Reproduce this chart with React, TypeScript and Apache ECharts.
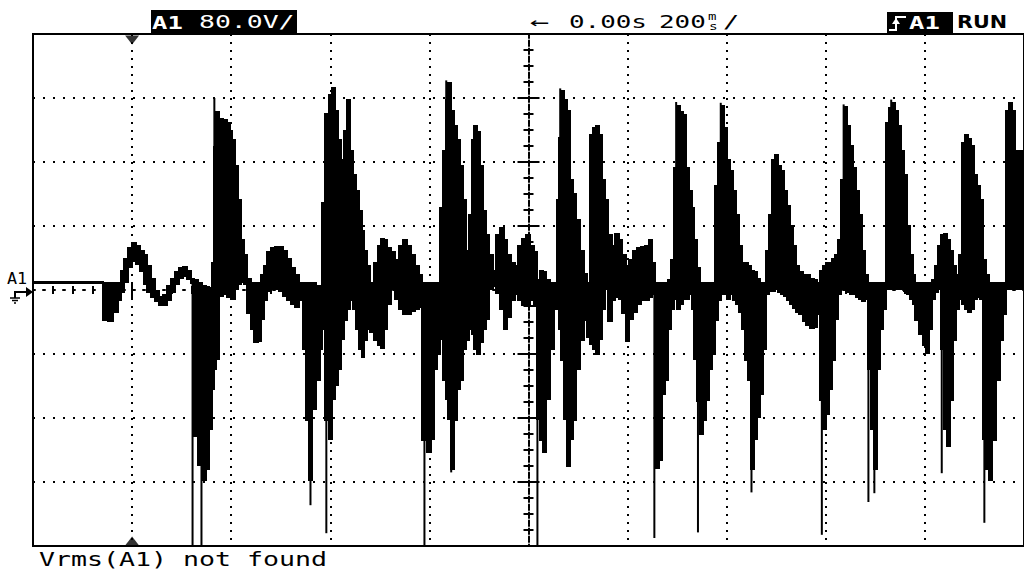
import React, { useEffect, useRef } from "react";
import * as echarts from "echarts";

// time axis (ms) : 200 ms/div, 10 divisions, centred on 0.00 s
const T_MIN = -1000;
const T_MAX = 1000;
const T_DIV = 200;
// voltage axis (V) : 80.0 V/div, 8 divisions
const V_MIN = -320;
const V_MAX = 320;
const V_DIV = 80;
const TRIGGER_T = -800;
const BASE_V = 10;

// envelope of the trace: sample start time, upper value, lower value
const T = [
  -1000, -860, -850, -840, -830, -824, -818, -810, -802, -794,
  -786, -778, -770, -762, -754, -746, -738, -730, -722, -714,
  -706, -698, -690, -682, -676, -668, -660, -652, -646, -640,
  -636, -632, -626, -618, -610, -604, -600, -594, -588, -582,
  -576, -570, -562, -554, -546, -540, -534, -528, -520, -512,
  -504, -496, -488, -480, -472, -464, -456, -450, -444, -438,
  -430, -422, -418, -412, -404, -398, -392, -386, -380, -374,
  -368, -362, -356, -350, -344, -338, -332, -326, -320, -312,
  -304, -298, -292, -286, -278, -270, -262, -254, -246, -238,
  -230, -222, -216, -206, -198, -192, -186, -180, -174, -168,
  -164, -158, -152, -146, -140, -134, -128, -122, -116, -110,
  -104, -98, -92, -86, -80, -72, -66, -58, -50, -44,
  -36, -28, -22, -14, -6, 2, 10, 16, 22, 28,
  34, 42, 50, 56, 60, 64, 70, 76, 82, 88,
  94, 102, 110, 118, 124, 130, 136, 142, 148, 154,
  160, 168, 174, 182, 188, 196, 202, 210, 218, 226,
  234, 242, 248, 254, 262, 268, 274, 280, 286, 292,
  298, 304, 310, 316, 322, 328, 334, 340, 346, 352,
  358, 364, 370, 376, 382, 388, 394, 400, 406, 412,
  418, 424, 430, 436, 442, 448, 454, 460, 466, 472,
  478, 484, 490, 496, 502, 508, 514, 520, 526, 532,
  538, 544, 552, 560, 568, 576, 582, 588, 594, 600,
  606, 612, 618, 624, 630, 636, 642, 648, 654, 660,
  666, 672, 678, 684, 690, 696, 702, 708, 714, 720,
  726, 732, 738, 744, 750, 756, 762, 768, 774, 780,
  788, 796, 802, 808, 814, 820, 826, 832, 838, 844,
  850, 856, 862, 868, 874, 880, 886, 892, 898, 904,
  910, 916, 922, 928, 934, 942, 950, 956, 962, 968,
  974, 980,
];
const HI = [
  11, 10, 10, 10, 10, 25, 40, 53, 60, 56,
  50, 44, 31, 15, 0, -8, -5, 6, 15, 23,
  28, 29, 25, 15, 13, 10, 6, 4, 3, 35,
  179, 223, 215, 213, 210, 200, 188, 156, 113, 63,
  44, 15, 10, 10, 10, 19, 31, 48, 53, 54,
  54, 50, 40, 28, 19, 10, 10, 10, 10, 9,
  6, 0, 109, 221, 244, 253, 225, 188, 163, 200,
  238, 175, 144, 125, 100, 75, 50, 31, 10, 35,
  56, 65, 63, 53, 48, 38, 56, 63, 56, 44,
  31, 19, 10, 10, 9, 9, 10, 103, 175, 238,
  259, 225, 206, 188, 156, 113, 50, 94, 188, 206,
  198, 156, 100, 69, 44, 25, 69, 78, 63, 44,
  35, 31, 56, 65, 69, 56, 48, 13, 25, 23,
  13, 10, 10, 113, 191, 250, 238, 225, 138, 121,
  88, 50, 21, 10, 194, 203, 206, 194, 138, 113,
  69, 56, 71, 63, 44, 31, 38, 50, 53, 55,
  56, 63, 35, 10, 10, 10, 10, 13, 38, 153,
  231, 223, 219, 153, 125, 103, 63, 28, 10, 10,
  10, 10, 10, 131, 185, 231, 203, 163, 150, 125,
  94, 56, 35, 35, 31, 25, 23, 15, 10, 10,
  50, 94, 163, 169, 156, 150, 125, 106, 81, 56,
  31, 23, 19, 19, 15, 13, 10, 25, 31, 35,
  35, 40, 44, 63, 138, 229, 206, 181, 153, 125,
  94, 50, 19, 10, 10, 10, 10, 10, 10, 209,
  228, 235, 225, 206, 175, 144, 81, 44, 19, 10,
  10, 10, 10, 10, 13, 31, 56, 69, 71, 63,
  50, 31, 19, 44, 184, 194, 190, 181, 144, 131,
  113, 38, 19, 10, 10, 10, 10, 10, 225, 234,
  225, 175,
];
const LO = [
  8, -38, -40, -28, -13, -3, 9, 28, 35, 31,
  23, 6, -3, -10, -15, -20, -20, -13, -3, 6,
  13, 16, 13, 8, -184, -219, -238, -225, -175, -125,
  -100, -88, -8, -6, -9, -8, -13, 0, 6, 9,
  6, -29, -50, -66, -65, -38, -13, -3, 0, 0,
  -3, -8, -13, -19, -23, -13, -75, -163, -238, -150,
  -113, -75, -50, -163, -188, -138, -119, -100, -63, -38,
  -25, -13, -25, -50, -75, -84, -63, -50, -53, -63,
  -70, -73, -50, -19, 0, -13, -25, -31, -31, -28,
  -25, -23, -188, -203, -188, -100, -81, -63, -113, -138,
  -163, -225, -163, -125, -113, -75, -63, -50, -56, -75,
  -81, -66, -50, -38, 0, 4, -6, -25, -50, -35,
  -13, -6, -13, -19, -19, -13, -21, -163, -188, -204,
  -138, -75, -25, -13, -50, -88, -163, -221, -188, -163,
  -100, -63, -38, -59, -69, -75, -81, -63, -25, 0,
  -40, -13, -10, -13, -31, -65, -38, -28, -19, -13,
  -13, -10, -6, -223, -213, -131, -113, -50, -25, -13,
  -25, -19, -13, -13, -6, -25, -88, -140, -181, -163,
  -138, -100, -81, -38, -13, -6, -6, -13, -6, -13,
  -19, -28, -50, -88, -113, -225, -188, -160, -131, -75,
  -6, -3, -3, 0, -3, -6, -8, -13, -19, -23,
  -28, -31, -40, -45, -48, -48, -31, -138, -175, -156,
  -125, -88, -38, -6, 0, 0, -3, -6, -6, -10,
  -13, -15, -13, -100, -175, -225, -100, -50, -25, 0,
  0, 0, 0, 0, 0, -3, -6, -13, -19, -38,
  -56, -69, -79, -50, -13, -3, 0, -75, -175, -196,
  -138, -63, -25, -13, -19, -25, -28, -25, -13, -10,
  -13, -188, -225, -238, -188, -113, -63, -31, 0, 0,
  0, 0,
];

// isolated single-sample spikes (time, peak value)
const SPIKE_T = [-678, -660, -440, -408, -210, -156, 18, 254, 342, 450, 592, 686, 698, 834, 920, -634, -166, 64, 298, 388, 636, 732];
const SPIKE_V = [-319, -319, -269, -304, -319, -228, -319, -310, -303, -253, -306, -265, -254, -229, -291, 240, 262, 252, 235, 234, 232, 238];

const MONO = '"DejaVu Sans Mono", monospace';

function txt(text: string, x: number, y: number, size: number, sx: number, fill = "#000", weight: string = "normal", family = MONO) {
  return {
    type: "text",
    x,
    y,
    scaleX: sx,
    z: 20,
    style: { text, fill, fontSize: size, fontFamily: family, fontWeight: weight, verticalAlign: "middle", align: "left" },
  };
}

export default function App() {
  const ref = useRef<HTMLDivElement>(null);
  useEffect(() => {
    document.body.style.margin = "0";
    const chart = echarts.init(ref.current as HTMLDivElement, null, { renderer: "svg", width: 1024, height: 572 });

    const trace = T.map((t, i) => [t, HI[i], LO[i], i + 1 < T.length ? T[i + 1] : T_MAX]);
    const spikes = SPIKE_T.map((t, i) => [t, SPIKE_V[i]]);

    const axisCommonX = {
      type: "value",
      min: T_MIN,
      max: T_MAX,
      interval: T_DIV,
      axisLabel: { show: false },
    };
    const axisCommonY = {
      type: "value",
      min: V_MIN,
      max: V_MAX,
      interval: V_DIV,
      axisLabel: { show: false },
    };

    const option: any = {
      animation: false,
      backgroundColor: "#fff",
      grid: { left: 33, top: 34, width: 1000, height: 512, show: true, borderColor: "#000", borderWidth: 2, backgroundColor: "transparent" },
      xAxis: [
        {
          ...axisCommonX,
          position: "bottom",
          axisLine: { show: true, onZero: true, onZeroAxisIndex: 0, lineStyle: { color: "#000", width: 2, type: [2, 8] } },
          axisTick: { show: true, inside: true, length: 8, lineStyle: { color: "#000", width: 2 } },
          minorTick: { show: true, splitNumber: 5, length: 4, lineStyle: { color: "#000", width: 2 } },
          splitLine: { show: true, lineStyle: { color: "#000", width: 2, type: [2, 6] } },
        },
        {
          ...axisCommonX,
          position: "bottom",
          axisLine: { show: false, onZero: true, onZeroAxisIndex: 0 },
          axisTick: { show: true, inside: false, length: 8, lineStyle: { color: "#000", width: 2 } },
          minorTick: { show: true, splitNumber: 5, length: 4, lineStyle: { color: "#000", width: 2 } },
          splitLine: { show: false },
        },
      ],
      yAxis: [
        {
          ...axisCommonY,
          position: "left",
          axisLine: { show: true, onZero: true, onZeroAxisIndex: 0, lineStyle: { color: "#000", width: 2, type: [1.5, 2.5] } },
          axisTick: { show: true, inside: true, length: 11, lineStyle: { color: "#000", width: 2 } },
          minorTick: { show: true, splitNumber: 4, length: 5, lineStyle: { color: "#000", width: 2 } },
          splitLine: { show: true, lineStyle: { color: "#000", width: 2, type: [2, 8] } },
        },
        {
          ...axisCommonY,
          position: "left",
          axisLine: { show: false, onZero: true, onZeroAxisIndex: 0 },
          axisTick: { show: true, inside: false, length: 11, lineStyle: { color: "#000", width: 2 } },
          minorTick: { show: true, splitNumber: 4, length: 5, lineStyle: { color: "#000", width: 2 } },
          splitLine: { show: false },
        },
      ],
      series: [
        {
          type: "custom",
          name: "A1",
          xAxisIndex: 0,
          yAxisIndex: 0,
          z: 5,
          data: trace,
          encode: { x: [0, 3], y: [1, 2] },
          renderItem: (params: any, api: any) => {
            const p0 = api.coord([api.value(0), api.value(1)]);
            const p1 = api.coord([api.value(3), api.value(2)]);
            const x0 = Math.floor(p0[0]);
            const x1 = Math.ceil(p1[0]) + 1;
            return {
              type: "rect",
              shape: { x: x0, y: Math.floor(p0[1]), width: x1 - x0, height: Math.max(2, Math.ceil(p1[1] - p0[1])) },
              style: { fill: "#000", stroke: null },
            };
          },
        },
        {
          type: "custom",
          name: "spikes",
          xAxisIndex: 0,
          yAxisIndex: 0,
          z: 6,
          data: spikes,
          encode: { x: 0, y: 1 },
          renderItem: (params: any, api: any) => {
            const a = api.coord([api.value(0), BASE_V]);
            const b = api.coord([api.value(0), api.value(1)]);
            return {
              type: "line",
              shape: { x1: a[0], y1: a[1], x2: b[0], y2: b[1] },
              style: { stroke: "#000", lineWidth: 2 },
            };
          },
        },
        {
          type: "scatter",
          name: "trigger",
          xAxisIndex: 0,
          yAxisIndex: 0,
          clip: false,
          z: 7,
          symbol: "triangle",
          symbolSize: [14, 9],
          itemStyle: { color: "#000" },
          silent: true,
          data: [
            { value: [TRIGGER_T, V_MAX], symbolRotate: 180, symbolOffset: [0, 6] },
            { value: [TRIGGER_T, V_MIN], symbolOffset: [0, -5] },
          ],
        },
      ],
      graphic: [
        // channel scale box
        { type: "rect", shape: { x: 151, y: 10, width: 146, height: 23 }, style: { fill: "#000" }, z: 19 },
        txt("A1", 152, 22, 18, 1.42, "#fff", "bold"),
        txt("80.0V/", 199, 22, 18, 1.47, "#fff"),
        // timebase
        txt("←", 530, 22, 18, 1.8),
        txt("0.00s", 569, 22, 18, 1.44),
        txt("200", 659, 22, 18, 1.44),
        txt("m", 708, 17, 10, 1.4),
        txt("s", 709, 26, 11, 1.3),
        txt("/", 723, 22, 18, 1.5),
        // trigger box
        { type: "rect", shape: { x: 887, y: 12, width: 66, height: 21 }, style: { fill: "#000" }, z: 19 },
        { type: "polyline", shape: { points: [[889, 30], [896, 30], [896, 17], [906, 17]] }, style: { stroke: "#fff", lineWidth: 2, fill: null }, z: 20 },
        { type: "polygon", shape: { points: [[892, 24], [896, 18], [900, 24]] }, style: { fill: "#fff" }, z: 20 },
        txt("A1", 909, 22, 18, 1.42, "#fff", "bold"),
        txt("RUN", 957, 22, 18, 1.15, "#000", "bold", '"DejaVu Sans", sans-serif'),
        // ground marker
        txt("A1", 7, 279, 16, 1.05),
        { type: "polyline", shape: { points: [[15, 298], [15, 292], [28, 292]] }, style: { stroke: "#000", lineWidth: 2, fill: null }, z: 20 },
        { type: "polygon", shape: { points: [[26, 287], [33, 292], [26, 297]] }, style: { fill: "#000" }, z: 20 },
        { type: "line", shape: { x1: 10, y1: 298, x2: 20, y2: 298 }, style: { stroke: "#000", lineWidth: 1.5 }, z: 20 },
        { type: "line", shape: { x1: 12, y1: 300.5, x2: 18, y2: 300.5 }, style: { stroke: "#000", lineWidth: 1.5 }, z: 20 },
        { type: "line", shape: { x1: 14, y1: 303, x2: 16, y2: 303 }, style: { stroke: "#000", lineWidth: 1.5 }, z: 20 },
        // measurement line
        txt("Vrms(A1) not found", 39, 559, 20, 1.33),
      ],
    };
    chart.setOption(option);
    return () => chart.dispose();
  }, []);
  return <div ref={ref} style={{ width: 1024, height: 572, background: "#fff" }} />;
}
